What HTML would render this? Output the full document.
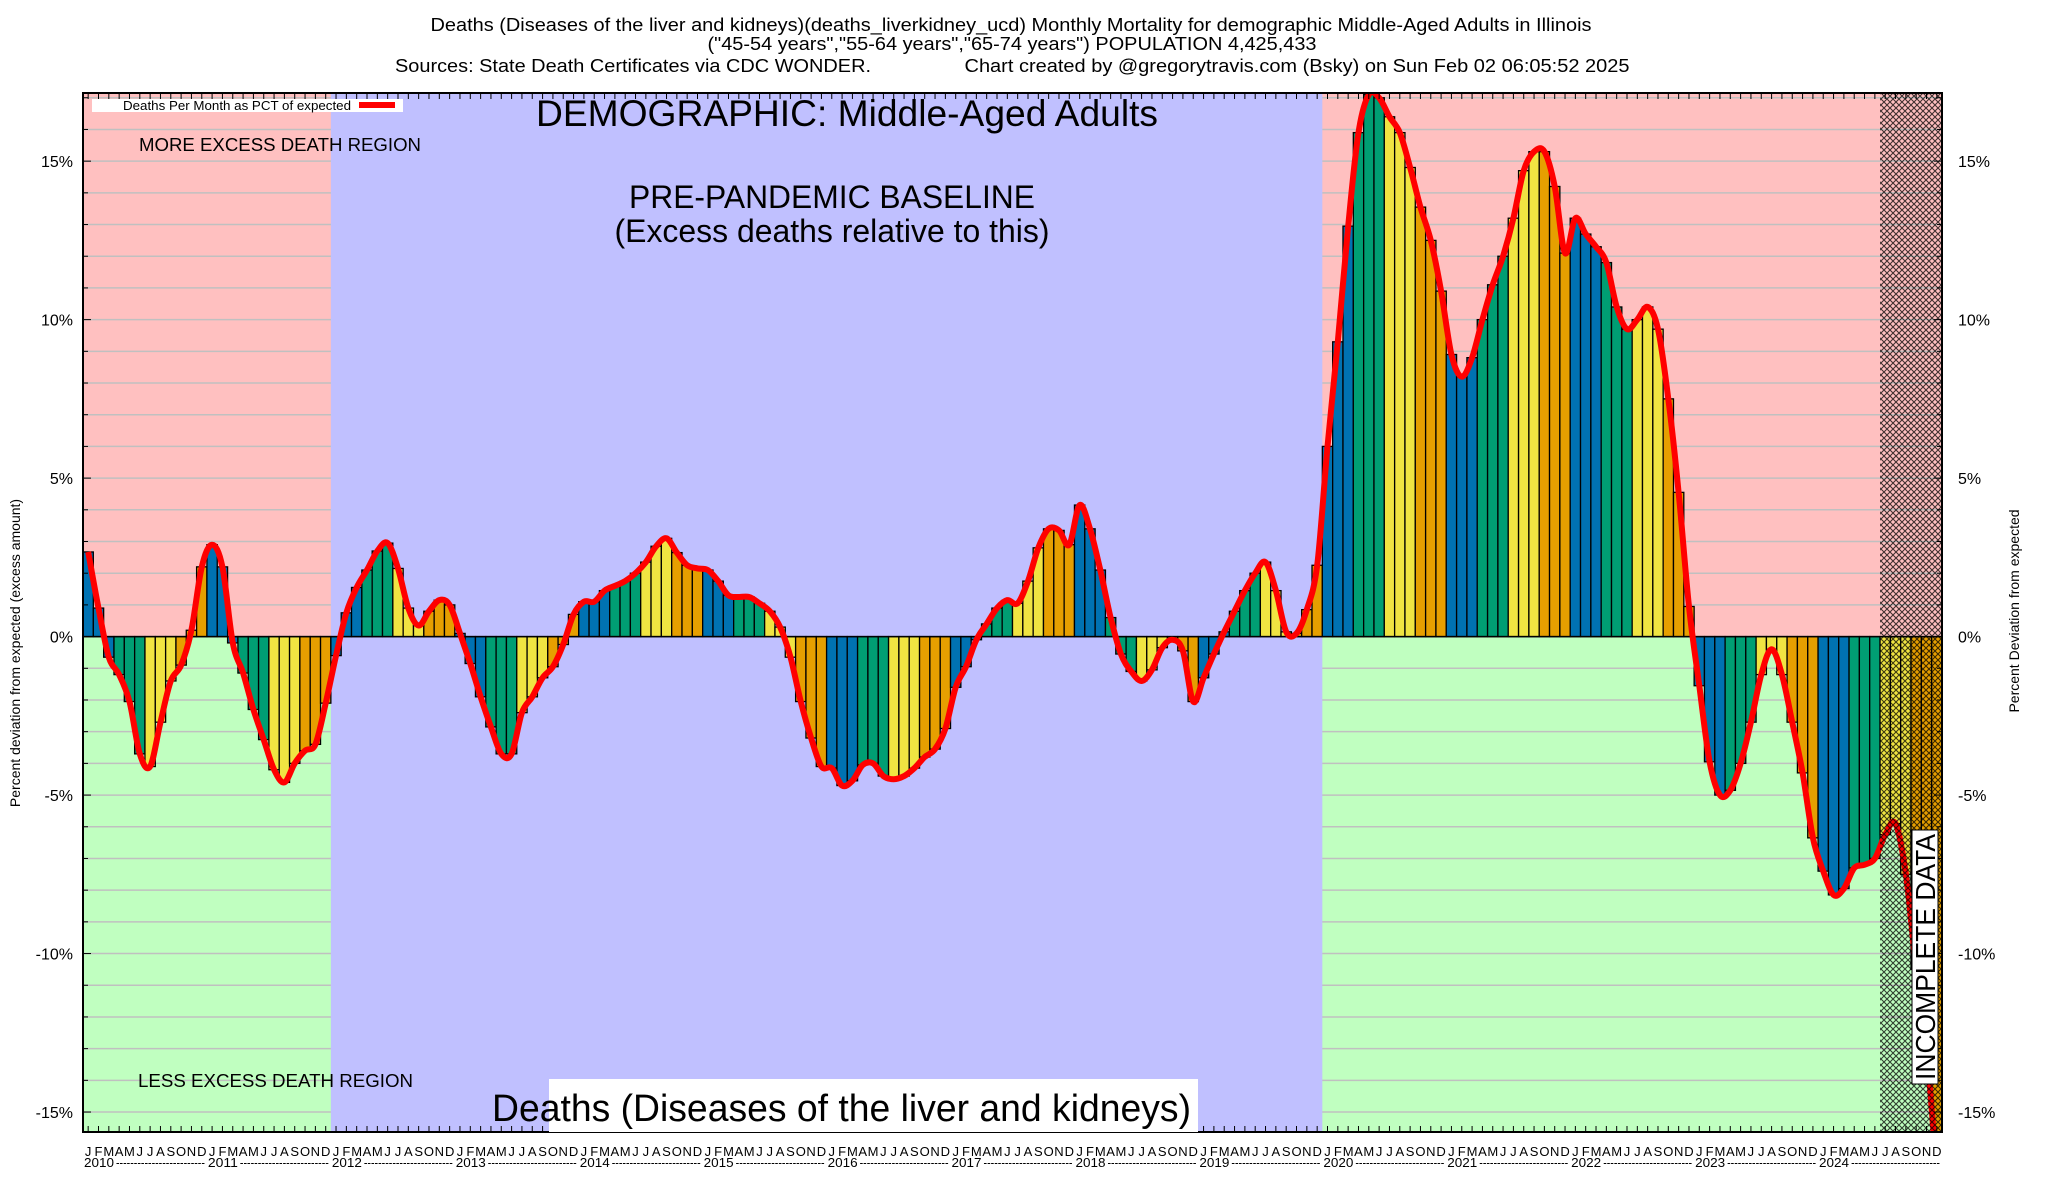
<!DOCTYPE html>
<html><head><meta charset="utf-8"><style>
body{margin:0;background:#fff;}
svg{display:block;font-family:"Liberation Sans",sans-serif;}
</style></head><body>
<svg id="chart" width="2048" height="1200" viewBox="0 0 2048 1200" xmlns="http://www.w3.org/2000/svg">
<defs>
<clipPath id="plotclip"><rect x="83" y="93" width="1859" height="1039"/></clipPath>
<pattern id="hatch" width="6" height="6" patternUnits="userSpaceOnUse">
<path d="M0,0 L6,6 M6,0 L0,6" stroke="#000" stroke-width="1.1"/>
</pattern>
</defs>
<g font-size="18" text-anchor="middle">
<text x="1011" y="31" textLength="1161" lengthAdjust="spacingAndGlyphs">Deaths (Diseases of the liver and kidneys)(deaths_liverkidney_ucd) Monthly Mortality for demographic Middle-Aged Adults in Illinois</text>
<text x="1012" y="50" textLength="609" lengthAdjust="spacingAndGlyphs">("45-54 years","55-64 years","65-74 years") POPULATION 4,425,433</text>
<text x="633" y="72" textLength="476" lengthAdjust="spacingAndGlyphs">Sources: State Death Certificates via CDC WONDER.</text>
<text x="1297" y="72" textLength="665" lengthAdjust="spacingAndGlyphs">Chart created by @gregorytravis.com (Bsky) on Sun Feb 02 06:05:52 2025</text>
</g>
<g id="bg" clip-path="url(#plotclip)"></g>
<g id="grid"></g>
<g id="regions"></g>
<g id="bars" clip-path="url(#plotclip)"></g>
<g id="line" clip-path="url(#plotclip)"></g>
<g id="hatchg"></g>
<g id="axes"></g>
<g>
<rect x="92" y="99" width="311" height="13" fill="#fff"/>
<text x="123" y="110" font-size="12.5" textLength="228" lengthAdjust="spacingAndGlyphs">Deaths Per Month as PCT of expected</text>
<rect x="359" y="102" width="36" height="6" fill="#ff0000"/>
<text x="847" y="126" font-size="37" text-anchor="middle" textLength="622" lengthAdjust="spacingAndGlyphs">DEMOGRAPHIC: Middle-Aged Adults</text>
<text x="139" y="151" font-size="18" textLength="282" lengthAdjust="spacingAndGlyphs">MORE EXCESS DEATH REGION</text>
<text x="832" y="208" font-size="32" text-anchor="middle" textLength="406" lengthAdjust="spacingAndGlyphs">PRE-PANDEMIC BASELINE</text>
<text x="832" y="242" font-size="32" text-anchor="middle" textLength="435" lengthAdjust="spacingAndGlyphs">(Excess deaths relative to this)</text>
<text x="138" y="1087" font-size="18" textLength="275" lengthAdjust="spacingAndGlyphs">LESS EXCESS DEATH REGION</text>
<rect x="549" y="1079" width="649" height="53" fill="#fff"/>
<text x="492" y="1121" font-size="38" textLength="699" lengthAdjust="spacingAndGlyphs">Deaths (Diseases of the liver and kidneys)</text>
<g transform="translate(1925,957) rotate(-90)">
<rect x="-127" y="-13" width="254" height="26" fill="#fff" stroke="#000" stroke-width="1"/>
<text x="0" y="10" font-size="28" text-anchor="middle" textLength="246" lengthAdjust="spacingAndGlyphs">INCOMPLETE DATA</text>
</g>
<text transform="translate(20,653) rotate(-90)" font-size="14" text-anchor="middle">Percent deviation from expected (excess amount)</text>
<text transform="translate(2019,611) rotate(-90)" font-size="14" text-anchor="middle">Percent Deviation from expected</text>
</g>
</svg>
<script>
const years = [2010,2011,2012,2013,2014,2015,2016,2017,2018,2019,2020,2021,2022,2023,2024];
const monthLetters = ["J","F","M","A","M","J","J","A","S","O","N","D"];
const pctValues = [
 2.67,0.9,-0.65,-1.2,-2.05,-3.7,-4.1,-2.7,-1.4,-0.9,0.2,2.2,
 2.9,2.2,-0.2,-1.15,-2.3,-3.25,-4.2,-4.6,-4.0,-3.6,-3.4,-2.1,
 -0.6,0.75,1.55,2.1,2.7,2.95,2.15,0.9,0.35,0.8,1.15,1.0,
 0.1,-0.85,-1.9,-2.85,-3.7,-3.7,-2.4,-1.9,-1.3,-0.95,-0.25,0.7,
 1.1,1.1,1.45,1.6,1.75,2.0,2.35,2.85,3.1,2.65,2.25,2.15,
 2.1,1.75,1.3,1.25,1.25,1.05,0.8,0.3,-0.65,-2.05,-3.2,-4.1,
 -4.15,-4.7,-4.55,-4.05,-4.0,-4.4,-4.5,-4.4,-4.15,-3.8,-3.55,-2.9,
 -1.6,-0.95,-0.1,0.4,0.9,1.15,1.05,1.75,2.8,3.4,3.35,2.9,
 4.15,3.4,2.1,0.6,-0.55,-1.1,-1.4,-1.05,-0.35,-0.1,-0.45,-2.05,
 -1.3,-0.55,0.15,0.8,1.45,2.0,2.35,1.45,0.15,0.1,0.85,2.25,
 6.0,9.3,12.95,15.9,17.1,17.0,16.4,15.9,14.8,13.55,12.5,10.9,
 8.9,8.2,8.8,10.0,11.1,12.0,13.2,14.7,15.3,15.3,14.2,12.1,
 13.2,12.7,12.3,11.8,10.4,9.7,10.0,10.4,9.7,7.5,4.55,0.95,
 -1.55,-3.95,-5.0,-4.85,-4.0,-2.7,-1.2,-0.4,-1.2,-2.7,-4.3,-6.35,
 -7.4,-8.15,-7.95,-7.3,-7.2,-7.0,-6.25,-5.9,-7.5,-10.5,-13,-17
];
const yTicks = [-15,-10,-5,0,5,10,15];
const yTickLabels = ["-15%","-10%","-5%","0%","5%","10%","15%"];
const baselineStartYear = 2012;
const baselineEndYear = 2020;
const incompleteFromMonth = 174;

const NS="http://www.w3.org/2000/svg";
const PL=83, PR=1942, PT=93, PB=1132;
const nMonths = years.length*12;
const mw=(PR-PL)/nMonths;
const yMax=17.15, yMin=-15.63;
function xL(i){return PL+i*mw;}
function xC(i){return PL+(i+0.5)*mw;}
function yS(v){return PT+(yMax-v)/(yMax-yMin)*(PB-PT);}
function mk(tag,attrs,parent){const e=document.createElementNS(NS,tag);for(const k in attrs)e.setAttribute(k,attrs[k]);parent.appendChild(e);return e;}
const y0=yS(0);

// backgrounds
const bg=document.getElementById('bg');
let r=mk('rect',{x:PL,y:PT,width:PR-PL,height:y0-PT,fill:'#ffc0c0'},bg);


r=mk('rect',{x:PL,y:y0,width:PR-PL,height:PB-y0,fill:'#c0ffc0'},bg);


// grid
const grid=document.getElementById('grid');
for(let v=-15;v<=17;v++){
  const l=mk('line',{x1:PL,x2:PR,y1:yS(v),y2:yS(v),stroke:'#c0c0c0','stroke-width':1.5},grid);
  
  
}
// baseline region
const bi=(baselineStartYear-years[0])*12, be=(baselineEndYear-years[0])*12;
r=mk('rect',{x:xL(bi),y:PT,width:xL(be)-xL(bi),height:PB-PT,fill:'#c0c0ff'},document.getElementById('regions'));


// bars
const seasonColors=['#0072b2','#009e73','#f0e442','#e69f00'];
const bars=document.getElementById('bars');
pctValues.forEach((v,i)=>{
  const top=yS(Math.max(v,0)), bot=yS(Math.min(v,0));
  const b=mk('rect',{x:xL(i),y:top,width:mw,height:Math.max(bot-top,0.5),fill:seasonColors[Math.floor((i%12)/3)],stroke:'#000','stroke-width':1.3},bars);
  
  
});
// zero line
const zl=mk('line',{x1:PL,x2:PR,y1:y0,y2:y0,stroke:'#000','stroke-width':1.5},bars);


// smooth line
const pts=pctValues.map((v,i)=>[xC(i),yS(v)]);
let d='M'+pts[0][0]+','+pts[0][1];
for(let i=0;i<pts.length-1;i++){
  const p0=pts[Math.max(i-1,0)],p1=pts[i],p2=pts[i+1],p3=pts[Math.min(i+2,pts.length-1)];
  const c1=[p1[0]+(p2[0]-p0[0])/6,p1[1]+(p2[1]-p0[1])/6];
  const c2=[p2[0]-(p3[0]-p1[0])/6,p2[1]-(p3[1]-p1[1])/6];
  d+=' C'+c1[0].toFixed(1)+','+c1[1].toFixed(1)+' '+c2[0].toFixed(1)+','+c2[1].toFixed(1)+' '+p2[0].toFixed(1)+','+p2[1].toFixed(1);
}
const ln=mk('path',{d:d,fill:'none',stroke:'#ff0000','stroke-width':6,'stroke-linejoin':'round'},document.getElementById('line'));


// hatch
const h=mk('rect',{x:xL(incompleteFromMonth),y:PT,width:PR-xL(incompleteFromMonth),height:PB-PT,fill:'url(#hatch)',opacity:0.75},document.getElementById('hatchg'));


// axes
const ax=document.getElementById('axes');
const frame=mk('rect',{x:PL,y:PT,width:PR-PL,height:PB-PT,fill:'none',stroke:'#000','stroke-width':2},ax);


for(let v=-15;v<=17;v++){
  const big=v%5===0;
  mk('line',{x1:PL,x2:PL+(big?8:5),y1:yS(v),y2:yS(v),stroke:'#000','stroke-width':1},ax);
  mk('line',{x1:PR,x2:PR-(big?8:5),y1:yS(v),y2:yS(v),stroke:'#000','stroke-width':1},ax);
}
yTicks.forEach((v,k)=>{
  const t=mk('text',{x:73,y:yS(v)+6,'font-size':16,'text-anchor':'end'},ax);
  t.textContent=yTickLabels[k];
  
  
  const t2=mk('text',{x:1958,y:yS(v)+6,'font-size':16},ax);
  t2.textContent=yTickLabels[k];
  
  
});
for(let i=0;i<nMonths;i++){
  mk('line',{x1:xC(i),x2:xC(i),y1:PB,y2:PB-6,stroke:'#000','stroke-width':1},ax);
  mk('line',{x1:xC(i),x2:xC(i),y1:PT,y2:PT+6,stroke:'#000','stroke-width':1},ax);
  const t=mk('text',{x:xC(i),y:1156,'font-size':13,'text-anchor':'middle'},ax);
  t.textContent=monthLetters[i%12];
  
  
}
years.forEach((yr,k)=>{
  const x=xL(k*12);
  const t=mk('text',{x:x+1,y:1167,'font-size':12.5,textLength:30,lengthAdjust:'spacingAndGlyphs'},ax);
  t.textContent=String(yr);
  
  
  const ds=mk('text',{x:x+33,y:1167,'font-size':12.5,textLength:12*mw-35,lengthAdjust:'spacingAndGlyphs'},ax);
  ds.textContent='-------------------------';
  
  
});
</script>
</body></html>
